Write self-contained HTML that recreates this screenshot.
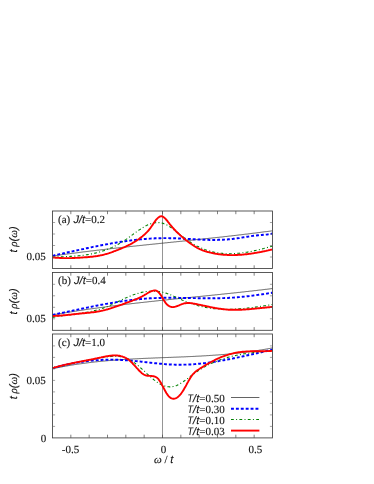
<!DOCTYPE html>
<html><head><meta charset="utf-8"><style>
html,body{margin:0;padding:0;background:#fff;}
svg{display:block;filter:blur(0.35px);}
.s{text-rendering:geometricPrecision;font-family:"Liberation Serif",serif;font-size:11px;fill:#111;stroke:#111;stroke-width:0.12px;}
.h{font-family:"Liberation Sans",sans-serif;font-style:italic;}
.si{font-family:"Liberation Serif",serif;font-style:italic;}
</style></head><body>
<svg width="374" height="484" viewBox="0 0 374 484">
<rect width="374" height="484" fill="#fff"/>
<clipPath id="cpa"><rect x="52.5" y="211.0" width="220.0" height="57.5"/></clipPath>
<line x1="162.5" y1="211.0" x2="162.5" y2="268.5" stroke="#7a7a7a" stroke-width="0.8"/>
<g clip-path="url(#cpa)">
<path d="M52.5,256.1 L53.2,256.0 L54.0,255.9 L54.7,255.8 L55.4,255.7 L56.2,255.5 L56.9,255.4 L57.7,255.3 L58.4,255.2 L59.1,255.1 L59.9,255.0 L60.6,254.9 L61.3,254.8 L62.1,254.7 L62.8,254.6 L63.5,254.5 L64.3,254.4 L65.0,254.3 L65.7,254.2 L66.5,254.1 L67.2,254.0 L68.0,253.9 L68.7,253.8 L69.4,253.7 L70.2,253.6 L70.9,253.5 L71.6,253.4 L72.4,253.3 L73.1,253.3 L73.8,253.2 L74.6,253.1 L75.3,253.0 L76.0,252.9 L76.8,252.8 L77.5,252.7 L78.3,252.6 L79.0,252.5 L79.7,252.4 L80.5,252.3 L81.2,252.2 L81.9,252.1 L82.7,252.0 L83.4,251.9 L84.1,251.8 L84.9,251.8 L85.6,251.7 L86.3,251.6 L87.1,251.5 L87.8,251.4 L88.6,251.3 L89.3,251.2 L90.0,251.1 L90.8,251.0 L91.5,250.9 L92.2,250.9 L93.0,250.8 L93.7,250.7 L94.4,250.6 L95.2,250.5 L95.9,250.4 L96.6,250.3 L97.4,250.2 L98.1,250.2 L98.9,250.1 L99.6,250.0 L100.3,249.9 L101.1,249.8 L101.8,249.7 L102.5,249.6 L103.3,249.6 L104.0,249.5 L104.7,249.4 L105.5,249.3 L106.2,249.2 L106.9,249.1 L107.7,249.0 L108.4,249.0 L109.2,248.9 L109.9,248.8 L110.6,248.7 L111.4,248.6 L112.1,248.5 L112.8,248.5 L113.6,248.4 L114.3,248.3 L115.0,248.2 L115.8,248.1 L116.5,248.0 L117.2,248.0 L118.0,247.9 L118.7,247.8 L119.5,247.7 L120.2,247.6 L120.9,247.6 L121.7,247.5 L122.4,247.4 L123.1,247.3 L123.9,247.2 L124.6,247.2 L125.3,247.1 L126.1,247.0 L126.8,246.9 L127.6,246.8 L128.3,246.8 L129.0,246.7 L129.8,246.6 L130.5,246.5 L131.2,246.4 L132.0,246.4 L132.7,246.3 L133.4,246.2 L134.2,246.1 L134.9,246.1 L135.6,246.0 L136.4,245.9 L137.1,245.8 L137.9,245.7 L138.6,245.7 L139.3,245.6 L140.1,245.5 L140.8,245.4 L141.5,245.4 L142.3,245.3 L143.0,245.2 L143.7,245.1 L144.5,245.0 L145.2,245.0 L145.9,244.9 L146.7,244.8 L147.4,244.7 L148.2,244.7 L148.9,244.6 L149.6,244.5 L150.4,244.4 L151.1,244.4 L151.8,244.3 L152.6,244.2 L153.3,244.1 L154.0,244.1 L154.8,244.0 L155.5,243.9 L156.2,243.8 L157.0,243.8 L157.7,243.7 L158.5,243.6 L159.2,243.5 L159.9,243.4 L160.7,243.4 L161.4,243.3 L162.1,243.2 L162.9,243.1 L163.6,243.1 L164.3,243.0 L165.1,242.9 L165.8,242.8 L166.5,242.8 L167.3,242.7 L168.0,242.6 L168.8,242.5 L169.5,242.5 L170.2,242.4 L171.0,242.3 L171.7,242.2 L172.4,242.2 L173.2,242.1 L173.9,242.0 L174.6,241.9 L175.4,241.9 L176.1,241.8 L176.8,241.7 L177.6,241.6 L178.3,241.6 L179.1,241.5 L179.8,241.4 L180.5,241.3 L181.3,241.3 L182.0,241.2 L182.7,241.1 L183.5,241.0 L184.2,241.0 L184.9,240.9 L185.7,240.8 L186.4,240.7 L187.1,240.6 L187.9,240.6 L188.6,240.5 L189.4,240.4 L190.1,240.3 L190.8,240.3 L191.6,240.2 L192.3,240.1 L193.0,240.0 L193.8,240.0 L194.5,239.9 L195.2,239.8 L196.0,239.7 L196.7,239.6 L197.4,239.6 L198.2,239.5 L198.9,239.4 L199.7,239.3 L200.4,239.3 L201.1,239.2 L201.9,239.1 L202.6,239.0 L203.3,238.9 L204.1,238.9 L204.8,238.8 L205.5,238.7 L206.3,238.6 L207.0,238.6 L207.8,238.5 L208.5,238.4 L209.2,238.3 L210.0,238.2 L210.7,238.2 L211.4,238.1 L212.2,238.0 L212.9,237.9 L213.6,237.8 L214.4,237.8 L215.1,237.7 L215.8,237.6 L216.6,237.5 L217.3,237.4 L218.1,237.4 L218.8,237.3 L219.5,237.2 L220.3,237.1 L221.0,237.0 L221.7,237.0 L222.5,236.9 L223.2,236.8 L223.9,236.7 L224.7,236.6 L225.4,236.5 L226.1,236.5 L226.9,236.4 L227.6,236.3 L228.4,236.2 L229.1,236.1 L229.8,236.0 L230.6,236.0 L231.3,235.9 L232.0,235.8 L232.8,235.7 L233.5,235.6 L234.2,235.5 L235.0,235.5 L235.7,235.4 L236.4,235.3 L237.2,235.2 L237.9,235.1 L238.7,235.0 L239.4,234.9 L240.1,234.9 L240.9,234.8 L241.6,234.7 L242.3,234.6 L243.1,234.5 L243.8,234.4 L244.5,234.3 L245.3,234.2 L246.0,234.1 L246.7,234.1 L247.5,234.0 L248.2,233.9 L249.0,233.8 L249.7,233.7 L250.4,233.6 L251.2,233.5 L251.9,233.4 L252.6,233.3 L253.4,233.2 L254.1,233.2 L254.8,233.1 L255.6,233.0 L256.3,232.9 L257.0,232.8 L257.8,232.7 L258.5,232.6 L259.3,232.5 L260.0,232.4 L260.7,232.3 L261.5,232.2 L262.2,232.1 L262.9,232.0 L263.7,231.9 L264.4,231.8 L265.1,231.7 L265.9,231.7 L266.6,231.6 L267.3,231.5 L268.1,231.4 L268.8,231.3 L269.6,231.2 L270.3,231.1 L271.0,231.0 L271.8,230.9 L272.5,230.8" stroke="#262626" stroke-width="0.72" fill="none"/>
<path d="M52.5,255.7 L53.2,255.6 L54.0,255.4 L54.7,255.2 L55.4,255.1 L56.2,254.9 L56.9,254.8 L57.7,254.6 L58.4,254.4 L59.1,254.3 L59.9,254.1 L60.6,254.0 L61.3,253.8 L62.1,253.6 L62.8,253.5 L63.5,253.3 L64.3,253.2 L65.0,253.0 L65.7,252.8 L66.5,252.7 L67.2,252.5 L68.0,252.3 L68.7,252.2 L69.4,252.0 L70.2,251.9 L70.9,251.7 L71.6,251.5 L72.4,251.4 L73.1,251.2 L73.8,251.0 L74.6,250.9 L75.3,250.7 L76.0,250.6 L76.8,250.4 L77.5,250.2 L78.3,250.1 L79.0,249.9 L79.7,249.8 L80.5,249.6 L81.2,249.4 L81.9,249.3 L82.7,249.1 L83.4,249.0 L84.1,248.8 L84.9,248.6 L85.6,248.5 L86.3,248.3 L87.1,248.2 L87.8,248.0 L88.6,247.9 L89.3,247.7 L90.0,247.6 L90.8,247.4 L91.5,247.3 L92.2,247.1 L93.0,246.9 L93.7,246.8 L94.4,246.6 L95.2,246.5 L95.9,246.4 L96.6,246.2 L97.4,246.1 L98.1,245.9 L98.9,245.8 L99.6,245.6 L100.3,245.5 L101.1,245.3 L101.8,245.2 L102.5,245.0 L103.3,244.9 L104.0,244.8 L104.7,244.6 L105.5,244.5 L106.2,244.4 L106.9,244.2 L107.7,244.1 L108.4,243.9 L109.2,243.8 L109.9,243.7 L110.6,243.6 L111.4,243.4 L112.1,243.3 L112.8,243.2 L113.6,243.0 L114.3,242.9 L115.0,242.8 L115.8,242.7 L116.5,242.5 L117.2,242.4 L118.0,242.3 L118.7,242.2 L119.5,242.1 L120.2,242.0 L120.9,241.8 L121.7,241.7 L122.4,241.6 L123.1,241.5 L123.9,241.4 L124.6,241.3 L125.3,241.2 L126.1,241.1 L126.8,241.0 L127.6,240.9 L128.3,240.8 L129.0,240.7 L129.8,240.6 L130.5,240.5 L131.2,240.4 L132.0,240.3 L132.7,240.2 L133.4,240.1 L134.2,240.0 L134.9,240.0 L135.6,239.9 L136.4,239.8 L137.1,239.7 L137.9,239.6 L138.6,239.6 L139.3,239.5 L140.1,239.4 L140.8,239.3 L141.5,239.3 L142.3,239.2 L143.0,239.1 L143.7,239.1 L144.5,239.0 L145.2,238.9 L145.9,238.9 L146.7,238.8 L147.4,238.8 L148.2,238.7 L148.9,238.7 L149.6,238.6 L150.4,238.6 L151.1,238.5 L151.8,238.5 L152.6,238.5 L153.3,238.4 L154.0,238.4 L154.8,238.3 L155.5,238.3 L156.2,238.3 L157.0,238.3 L157.7,238.2 L158.5,238.2 L159.2,238.2 L159.9,238.2 L160.7,238.2 L161.4,238.1 L162.1,238.1 L162.9,238.1 L163.6,238.1 L164.3,238.1 L165.1,238.1 L165.8,238.1 L166.5,238.1 L167.3,238.1 L168.0,238.1 L168.8,238.1 L169.5,238.2 L170.2,238.2 L171.0,238.2 L171.7,238.2 L172.4,238.2 L173.2,238.2 L173.9,238.3 L174.6,238.3 L175.4,238.3 L176.1,238.4 L176.8,238.4 L177.6,238.4 L178.3,238.4 L179.1,238.5 L179.8,238.5 L180.5,238.5 L181.3,238.6 L182.0,238.6 L182.7,238.7 L183.5,238.7 L184.2,238.7 L184.9,238.8 L185.7,238.8 L186.4,238.8 L187.1,238.9 L187.9,238.9 L188.6,239.0 L189.4,239.0 L190.1,239.0 L190.8,239.1 L191.6,239.1 L192.3,239.2 L193.0,239.2 L193.8,239.2 L194.5,239.3 L195.2,239.3 L196.0,239.4 L196.7,239.4 L197.4,239.4 L198.2,239.5 L198.9,239.5 L199.7,239.5 L200.4,239.6 L201.1,239.6 L201.9,239.6 L202.6,239.7 L203.3,239.7 L204.1,239.7 L204.8,239.7 L205.5,239.8 L206.3,239.8 L207.0,239.8 L207.8,239.8 L208.5,239.8 L209.2,239.9 L210.0,239.9 L210.7,239.9 L211.4,239.9 L212.2,239.9 L212.9,239.9 L213.6,239.9 L214.4,239.9 L215.1,239.9 L215.8,239.9 L216.6,239.9 L217.3,239.9 L218.1,239.8 L218.8,239.8 L219.5,239.8 L220.3,239.8 L221.0,239.8 L221.7,239.7 L222.5,239.7 L223.2,239.7 L223.9,239.6 L224.7,239.6 L225.4,239.5 L226.1,239.5 L226.9,239.4 L227.6,239.4 L228.4,239.3 L229.1,239.2 L229.8,239.2 L230.6,239.1 L231.3,239.0 L232.0,238.9 L232.8,238.9 L233.5,238.8 L234.2,238.7 L235.0,238.6 L235.7,238.5 L236.4,238.4 L237.2,238.3 L237.9,238.2 L238.7,238.1 L239.4,238.0 L240.1,237.8 L240.9,237.7 L241.6,237.6 L242.3,237.5 L243.1,237.4 L243.8,237.3 L244.5,237.2 L245.3,237.0 L246.0,236.9 L246.7,236.8 L247.5,236.7 L248.2,236.6 L249.0,236.5 L249.7,236.4 L250.4,236.2 L251.2,236.1 L251.9,236.0 L252.6,235.9 L253.4,235.8 L254.1,235.7 L254.8,235.6 L255.6,235.5 L256.3,235.4 L257.0,235.4 L257.8,235.3 L258.5,235.2 L259.3,235.1 L260.0,235.0 L260.7,235.0 L261.5,234.9 L262.2,234.9 L262.9,234.8 L263.7,234.8 L264.4,234.7 L265.1,234.7 L265.9,234.6 L266.6,234.6 L267.3,234.5 L268.1,234.4 L268.8,234.3 L269.6,234.2 L270.3,234.0 L271.0,233.9 L271.8,233.6 L272.5,233.4" stroke="#0000ff" stroke-width="1.95" stroke-dasharray="2.9,2.0" fill="none"/>
<path d="M52.5,257.0 L53.2,257.0 L54.0,257.0 L54.7,257.0 L55.4,256.9 L56.2,256.9 L56.9,256.9 L57.7,256.9 L58.4,256.9 L59.1,256.8 L59.9,256.8 L60.6,256.8 L61.3,256.8 L62.1,256.8 L62.8,256.7 L63.5,256.7 L64.3,256.7 L65.0,256.7 L65.7,256.6 L66.5,256.6 L67.2,256.6 L68.0,256.5 L68.7,256.5 L69.4,256.5 L70.2,256.4 L70.9,256.4 L71.6,256.3 L72.4,256.3 L73.1,256.2 L73.8,256.2 L74.6,256.1 L75.3,256.1 L76.0,256.0 L76.8,256.0 L77.5,255.9 L78.3,255.8 L79.0,255.8 L79.7,255.7 L80.5,255.6 L81.2,255.5 L81.9,255.4 L82.7,255.4 L83.4,255.3 L84.1,255.2 L84.9,255.1 L85.6,255.0 L86.3,254.8 L87.1,254.7 L87.8,254.6 L88.6,254.5 L89.3,254.4 L90.0,254.2 L90.8,254.1 L91.5,253.9 L92.2,253.8 L93.0,253.6 L93.7,253.5 L94.4,253.3 L95.2,253.1 L95.9,253.0 L96.6,252.8 L97.4,252.6 L98.1,252.4 L98.9,252.2 L99.6,252.0 L100.3,251.8 L101.1,251.5 L101.8,251.3 L102.5,251.1 L103.3,250.8 L104.0,250.6 L104.7,250.3 L105.5,250.1 L106.2,249.8 L106.9,249.5 L107.7,249.2 L108.4,249.0 L109.2,248.7 L109.9,248.3 L110.6,248.0 L111.4,247.7 L112.1,247.4 L112.8,247.0 L113.6,246.7 L114.3,246.3 L115.0,246.0 L115.8,245.6 L116.5,245.2 L117.2,244.8 L118.0,244.4 L118.7,244.0 L119.5,243.6 L120.2,243.2 L120.9,242.7 L121.7,242.3 L122.4,241.8 L123.1,241.3 L123.9,240.9 L124.6,240.4 L125.3,239.9 L126.1,239.4 L126.8,238.9 L127.6,238.3 L128.3,237.8 L129.0,237.3 L129.8,236.8 L130.5,236.2 L131.2,235.7 L132.0,235.1 L132.7,234.6 L133.4,234.0 L134.2,233.5 L134.9,233.0 L135.6,232.4 L136.4,231.9 L137.1,231.4 L137.9,230.9 L138.6,230.4 L139.3,229.8 L140.1,229.4 L140.8,228.9 L141.5,228.4 L142.3,227.9 L143.0,227.5 L143.7,227.0 L144.5,226.6 L145.2,226.2 L145.9,225.8 L146.7,225.5 L147.4,225.1 L148.2,224.8 L148.9,224.5 L149.6,224.2 L150.4,223.9 L151.1,223.6 L151.8,223.4 L152.6,223.2 L153.3,223.0 L154.0,222.9 L154.8,222.8 L155.5,222.7 L156.2,222.6 L157.0,222.6 L157.7,222.6 L158.5,222.6 L159.2,222.6 L159.9,222.7 L160.7,222.8 L161.4,223.0 L162.1,223.1 L162.9,223.3 L163.6,223.6 L164.3,223.9 L165.1,224.2 L165.8,224.5 L166.5,224.8 L167.3,225.2 L168.0,225.6 L168.8,226.1 L169.5,226.5 L170.2,227.0 L171.0,227.5 L171.7,228.0 L172.4,228.5 L173.2,229.1 L173.9,229.6 L174.6,230.2 L175.4,230.8 L176.1,231.4 L176.8,232.0 L177.6,232.6 L178.3,233.2 L179.1,233.8 L179.8,234.4 L180.5,235.0 L181.3,235.6 L182.0,236.2 L182.7,236.7 L183.5,237.3 L184.2,237.9 L184.9,238.4 L185.7,239.0 L186.4,239.5 L187.1,240.0 L187.9,240.6 L188.6,241.1 L189.4,241.5 L190.1,242.0 L190.8,242.5 L191.6,243.0 L192.3,243.4 L193.0,243.8 L193.8,244.3 L194.5,244.7 L195.2,245.1 L196.0,245.5 L196.7,245.9 L197.4,246.3 L198.2,246.6 L198.9,247.0 L199.7,247.3 L200.4,247.7 L201.1,248.0 L201.9,248.3 L202.6,248.6 L203.3,248.9 L204.1,249.2 L204.8,249.5 L205.5,249.7 L206.3,250.0 L207.0,250.2 L207.8,250.5 L208.5,250.7 L209.2,250.9 L210.0,251.1 L210.7,251.3 L211.4,251.5 L212.2,251.7 L212.9,251.9 L213.6,252.1 L214.4,252.2 L215.1,252.4 L215.8,252.5 L216.6,252.6 L217.3,252.8 L218.1,252.9 L218.8,253.0 L219.5,253.1 L220.3,253.2 L221.0,253.3 L221.7,253.3 L222.5,253.4 L223.2,253.5 L223.9,253.5 L224.7,253.6 L225.4,253.6 L226.1,253.7 L226.9,253.7 L227.6,253.7 L228.4,253.7 L229.1,253.7 L229.8,253.7 L230.6,253.7 L231.3,253.7 L232.0,253.7 L232.8,253.7 L233.5,253.6 L234.2,253.6 L235.0,253.6 L235.7,253.5 L236.4,253.5 L237.2,253.4 L237.9,253.3 L238.7,253.3 L239.4,253.2 L240.1,253.1 L240.9,253.0 L241.6,252.9 L242.3,252.8 L243.1,252.7 L243.8,252.6 L244.5,252.5 L245.3,252.4 L246.0,252.3 L246.7,252.2 L247.5,252.1 L248.2,251.9 L249.0,251.8 L249.7,251.7 L250.4,251.5 L251.2,251.4 L251.9,251.2 L252.6,251.1 L253.4,250.9 L254.1,250.8 L254.8,250.6 L255.6,250.5 L256.3,250.3 L257.0,250.1 L257.8,250.0 L258.5,249.8 L259.3,249.6 L260.0,249.4 L260.7,249.2 L261.5,249.1 L262.2,248.9 L262.9,248.7 L263.7,248.5 L264.4,248.3 L265.1,248.1 L265.9,247.9 L266.6,247.7 L267.3,247.5 L268.1,247.3 L268.8,247.1 L269.6,246.9 L270.3,246.7 L271.0,246.5 L271.8,246.3 L272.5,246.1" stroke="#008000" stroke-width="1.12" stroke-dasharray="2.8,2.3,1,2.3" fill="none"/>
<path d="M52.5,257.4 L53.2,257.5 L54.0,257.5 L54.7,257.6 L55.4,257.7 L56.2,257.7 L56.9,257.8 L57.7,257.8 L58.4,257.9 L59.1,257.9 L59.9,258.0 L60.6,258.0 L61.3,258.0 L62.1,258.0 L62.8,258.1 L63.5,258.1 L64.3,258.1 L65.0,258.1 L65.7,258.1 L66.5,258.1 L67.2,258.1 L68.0,258.1 L68.7,258.1 L69.4,258.1 L70.2,258.1 L70.9,258.1 L71.6,258.1 L72.4,258.0 L73.1,258.0 L73.8,258.0 L74.6,258.0 L75.3,257.9 L76.0,257.9 L76.8,257.9 L77.5,257.8 L78.3,257.8 L79.0,257.7 L79.7,257.7 L80.5,257.6 L81.2,257.6 L81.9,257.5 L82.7,257.5 L83.4,257.4 L84.1,257.4 L84.9,257.3 L85.6,257.3 L86.3,257.2 L87.1,257.2 L87.8,257.1 L88.6,257.0 L89.3,257.0 L90.0,256.9 L90.8,256.8 L91.5,256.7 L92.2,256.7 L93.0,256.6 L93.7,256.5 L94.4,256.4 L95.2,256.3 L95.9,256.2 L96.6,256.1 L97.4,256.0 L98.1,255.8 L98.9,255.7 L99.6,255.6 L100.3,255.4 L101.1,255.3 L101.8,255.1 L102.5,255.0 L103.3,254.8 L104.0,254.6 L104.7,254.4 L105.5,254.2 L106.2,254.0 L106.9,253.8 L107.7,253.6 L108.4,253.3 L109.2,253.1 L109.9,252.8 L110.6,252.6 L111.4,252.3 L112.1,252.1 L112.8,251.8 L113.6,251.5 L114.3,251.2 L115.0,251.0 L115.8,250.7 L116.5,250.4 L117.2,250.1 L118.0,249.8 L118.7,249.5 L119.5,249.2 L120.2,249.0 L120.9,248.6 L121.7,248.3 L122.4,248.0 L123.1,247.7 L123.9,247.4 L124.6,247.1 L125.3,246.7 L126.1,246.4 L126.8,246.0 L127.6,245.7 L128.3,245.3 L129.0,244.9 L129.8,244.6 L130.5,244.2 L131.2,243.8 L132.0,243.4 L132.7,242.9 L133.4,242.5 L134.2,242.1 L134.9,241.6 L135.6,241.2 L136.4,240.7 L137.1,240.2 L137.9,239.7 L138.6,239.2 L139.3,238.7 L140.1,238.1 L140.8,237.6 L141.5,237.0 L142.3,236.4 L143.0,235.8 L143.7,235.2 L144.5,234.6 L145.2,233.9 L145.9,233.2 L146.7,232.4 L147.4,231.7 L148.2,230.8 L148.9,230.0 L149.6,229.0 L150.4,228.1 L151.1,227.0 L151.8,226.0 L152.6,224.9 L153.3,223.8 L154.0,222.7 L154.8,221.6 L155.5,220.6 L156.2,219.7 L157.0,218.8 L157.7,218.1 L158.5,217.4 L159.2,216.9 L159.9,216.5 L160.7,216.3 L161.4,216.3 L162.1,216.4 L162.9,216.7 L163.6,217.1 L164.3,217.7 L165.1,218.4 L165.8,219.2 L166.5,220.0 L167.3,220.9 L168.0,221.9 L168.8,222.8 L169.5,223.8 L170.2,224.7 L171.0,225.6 L171.7,226.5 L172.4,227.3 L173.2,228.2 L173.9,229.0 L174.6,229.8 L175.4,230.5 L176.1,231.3 L176.8,232.0 L177.6,232.7 L178.3,233.5 L179.1,234.1 L179.8,234.8 L180.5,235.5 L181.3,236.1 L182.0,236.8 L182.7,237.4 L183.5,238.0 L184.2,238.6 L184.9,239.3 L185.7,239.9 L186.4,240.4 L187.1,241.0 L187.9,241.6 L188.6,242.2 L189.4,242.7 L190.1,243.3 L190.8,243.8 L191.6,244.3 L192.3,244.8 L193.0,245.3 L193.8,245.8 L194.5,246.3 L195.2,246.7 L196.0,247.1 L196.7,247.6 L197.4,248.0 L198.2,248.4 L198.9,248.7 L199.7,249.1 L200.4,249.4 L201.1,249.7 L201.9,250.0 L202.6,250.3 L203.3,250.6 L204.1,250.8 L204.8,251.1 L205.5,251.3 L206.3,251.5 L207.0,251.8 L207.8,252.0 L208.5,252.2 L209.2,252.4 L210.0,252.5 L210.7,252.7 L211.4,252.9 L212.2,253.0 L212.9,253.2 L213.6,253.3 L214.4,253.5 L215.1,253.6 L215.8,253.7 L216.6,253.9 L217.3,254.0 L218.1,254.1 L218.8,254.2 L219.5,254.3 L220.3,254.4 L221.0,254.5 L221.7,254.6 L222.5,254.6 L223.2,254.7 L223.9,254.8 L224.7,254.8 L225.4,254.9 L226.1,254.9 L226.9,254.9 L227.6,255.0 L228.4,255.0 L229.1,255.0 L229.8,255.1 L230.6,255.1 L231.3,255.1 L232.0,255.1 L232.8,255.1 L233.5,255.1 L234.2,255.1 L235.0,255.0 L235.7,255.0 L236.4,255.0 L237.2,255.0 L237.9,254.9 L238.7,254.9 L239.4,254.8 L240.1,254.8 L240.9,254.7 L241.6,254.7 L242.3,254.6 L243.1,254.6 L243.8,254.5 L244.5,254.4 L245.3,254.3 L246.0,254.3 L246.7,254.2 L247.5,254.1 L248.2,254.0 L249.0,253.9 L249.7,253.8 L250.4,253.7 L251.2,253.6 L251.9,253.5 L252.6,253.4 L253.4,253.3 L254.1,253.1 L254.8,253.0 L255.6,252.9 L256.3,252.8 L257.0,252.6 L257.8,252.5 L258.5,252.4 L259.3,252.2 L260.0,252.1 L260.7,252.0 L261.5,251.8 L262.2,251.7 L262.9,251.5 L263.7,251.4 L264.4,251.2 L265.1,251.1 L265.9,250.9 L266.6,250.7 L267.3,250.6 L268.1,250.4 L268.8,250.2 L269.6,250.1 L270.3,249.9 L271.0,249.7 L271.8,249.6 L272.5,249.4" stroke="#ff0000" stroke-width="1.9" fill="none" stroke-linejoin="round"/>
</g>
<rect x="52.5" y="211.0" width="220.0" height="57.5" fill="none" stroke="#3c3c3c" stroke-width="0.85"/>
<path d="M70.84,268.5 v-3.2 M70.84,211.0 v3.2 M89.17,268.5 v-3.2 M89.17,211.0 v3.2 M107.50,268.5 v-3.2 M107.50,211.0 v3.2 M125.83,268.5 v-3.2 M125.83,211.0 v3.2 M144.17,268.5 v-3.2 M144.17,211.0 v3.2 M162.50,268.5 v-3.2 M162.50,211.0 v3.2 M180.83,268.5 v-3.2 M180.83,211.0 v3.2 M199.17,268.5 v-3.2 M199.17,211.0 v3.2 M217.50,268.5 v-3.2 M217.50,211.0 v3.2 M235.83,268.5 v-3.2 M235.83,211.0 v3.2 M254.16,268.5 v-3.2 M254.16,211.0 v3.2" stroke="#4a4a4a" stroke-width="0.7" fill="none"/>
<path d="M52.5,257.00 h2.6 M272.5,257.00 h-2.6 M52.5,245.50 h2.6 M272.5,245.50 h-2.6 M52.5,234.00 h2.6 M272.5,234.00 h-2.6 M52.5,222.50 h2.6 M272.5,222.50 h-2.6" stroke="#666" stroke-width="0.6" fill="none"/>
<clipPath id="cpb"><rect x="52.5" y="272.5" width="220.0" height="57.80000000000001"/></clipPath>
<line x1="162.5" y1="272.5" x2="162.5" y2="330.3" stroke="#7a7a7a" stroke-width="0.8"/>
<g clip-path="url(#cpb)">
<path d="M52.5,315.0 L53.2,314.8 L54.0,314.7 L54.7,314.6 L55.4,314.4 L56.2,314.3 L56.9,314.2 L57.7,314.1 L58.4,313.9 L59.1,313.8 L59.9,313.7 L60.6,313.6 L61.3,313.4 L62.1,313.3 L62.8,313.2 L63.5,313.1 L64.3,312.9 L65.0,312.8 L65.7,312.7 L66.5,312.6 L67.2,312.5 L68.0,312.3 L68.7,312.2 L69.4,312.1 L70.2,312.0 L70.9,311.9 L71.6,311.8 L72.4,311.6 L73.1,311.5 L73.8,311.4 L74.6,311.3 L75.3,311.2 L76.0,311.1 L76.8,311.0 L77.5,310.8 L78.3,310.7 L79.0,310.6 L79.7,310.5 L80.5,310.4 L81.2,310.3 L81.9,310.2 L82.7,310.1 L83.4,310.0 L84.1,309.9 L84.9,309.7 L85.6,309.6 L86.3,309.5 L87.1,309.4 L87.8,309.3 L88.6,309.2 L89.3,309.1 L90.0,309.0 L90.8,308.9 L91.5,308.8 L92.2,308.7 L93.0,308.6 L93.7,308.5 L94.4,308.4 L95.2,308.3 L95.9,308.2 L96.6,308.1 L97.4,308.0 L98.1,307.9 L98.9,307.8 L99.6,307.7 L100.3,307.6 L101.1,307.5 L101.8,307.4 L102.5,307.3 L103.3,307.2 L104.0,307.1 L104.7,307.0 L105.5,306.9 L106.2,306.8 L106.9,306.7 L107.7,306.6 L108.4,306.5 L109.2,306.4 L109.9,306.3 L110.6,306.2 L111.4,306.1 L112.1,306.0 L112.8,305.9 L113.6,305.9 L114.3,305.8 L115.0,305.7 L115.8,305.6 L116.5,305.5 L117.2,305.4 L118.0,305.3 L118.7,305.2 L119.5,305.1 L120.2,305.0 L120.9,304.9 L121.7,304.9 L122.4,304.8 L123.1,304.7 L123.9,304.6 L124.6,304.5 L125.3,304.4 L126.1,304.3 L126.8,304.2 L127.6,304.1 L128.3,304.1 L129.0,304.0 L129.8,303.9 L130.5,303.8 L131.2,303.7 L132.0,303.6 L132.7,303.5 L133.4,303.5 L134.2,303.4 L134.9,303.3 L135.6,303.2 L136.4,303.1 L137.1,303.0 L137.9,303.0 L138.6,302.9 L139.3,302.8 L140.1,302.7 L140.8,302.6 L141.5,302.5 L142.3,302.5 L143.0,302.4 L143.7,302.3 L144.5,302.2 L145.2,302.1 L145.9,302.1 L146.7,302.0 L147.4,301.9 L148.2,301.8 L148.9,301.7 L149.6,301.6 L150.4,301.6 L151.1,301.5 L151.8,301.4 L152.6,301.3 L153.3,301.3 L154.0,301.2 L154.8,301.1 L155.5,301.0 L156.2,300.9 L157.0,300.9 L157.7,300.8 L158.5,300.7 L159.2,300.6 L159.9,300.5 L160.7,300.5 L161.4,300.4 L162.1,300.3 L162.9,300.2 L163.6,300.2 L164.3,300.1 L165.1,300.0 L165.8,299.9 L166.5,299.9 L167.3,299.8 L168.0,299.7 L168.8,299.6 L169.5,299.5 L170.2,299.5 L171.0,299.4 L171.7,299.3 L172.4,299.2 L173.2,299.2 L173.9,299.1 L174.6,299.0 L175.4,298.9 L176.1,298.9 L176.8,298.8 L177.6,298.7 L178.3,298.6 L179.1,298.6 L179.8,298.5 L180.5,298.4 L181.3,298.3 L182.0,298.3 L182.7,298.2 L183.5,298.1 L184.2,298.0 L184.9,298.0 L185.7,297.9 L186.4,297.8 L187.1,297.7 L187.9,297.7 L188.6,297.6 L189.4,297.5 L190.1,297.4 L190.8,297.4 L191.6,297.3 L192.3,297.2 L193.0,297.1 L193.8,297.1 L194.5,297.0 L195.2,296.9 L196.0,296.8 L196.7,296.8 L197.4,296.7 L198.2,296.6 L198.9,296.6 L199.7,296.5 L200.4,296.4 L201.1,296.3 L201.9,296.3 L202.6,296.2 L203.3,296.1 L204.1,296.0 L204.8,296.0 L205.5,295.9 L206.3,295.8 L207.0,295.7 L207.8,295.7 L208.5,295.6 L209.2,295.5 L210.0,295.4 L210.7,295.4 L211.4,295.3 L212.2,295.2 L212.9,295.1 L213.6,295.1 L214.4,295.0 L215.1,294.9 L215.8,294.8 L216.6,294.8 L217.3,294.7 L218.1,294.6 L218.8,294.5 L219.5,294.5 L220.3,294.4 L221.0,294.3 L221.7,294.2 L222.5,294.1 L223.2,294.1 L223.9,294.0 L224.7,293.9 L225.4,293.8 L226.1,293.8 L226.9,293.7 L227.6,293.6 L228.4,293.5 L229.1,293.5 L229.8,293.4 L230.6,293.3 L231.3,293.2 L232.0,293.1 L232.8,293.1 L233.5,293.0 L234.2,292.9 L235.0,292.8 L235.7,292.8 L236.4,292.7 L237.2,292.6 L237.9,292.5 L238.7,292.4 L239.4,292.4 L240.1,292.3 L240.9,292.2 L241.6,292.1 L242.3,292.0 L243.1,292.0 L243.8,291.9 L244.5,291.8 L245.3,291.7 L246.0,291.6 L246.7,291.5 L247.5,291.5 L248.2,291.4 L249.0,291.3 L249.7,291.2 L250.4,291.1 L251.2,291.1 L251.9,291.0 L252.6,290.9 L253.4,290.8 L254.1,290.7 L254.8,290.6 L255.6,290.6 L256.3,290.5 L257.0,290.4 L257.8,290.3 L258.5,290.2 L259.3,290.1 L260.0,290.0 L260.7,290.0 L261.5,289.9 L262.2,289.8 L262.9,289.7 L263.7,289.6 L264.4,289.5 L265.1,289.4 L265.9,289.3 L266.6,289.3 L267.3,289.2 L268.1,289.1 L268.8,289.0 L269.6,288.9 L270.3,288.8 L271.0,288.7 L271.8,288.6 L272.5,288.5" stroke="#262626" stroke-width="0.72" fill="none"/>
<path d="M52.5,314.9 L53.2,314.7 L54.0,314.6 L54.7,314.4 L55.4,314.3 L56.2,314.1 L56.9,314.0 L57.7,313.8 L58.4,313.7 L59.1,313.5 L59.9,313.3 L60.6,313.2 L61.3,313.0 L62.1,312.9 L62.8,312.7 L63.5,312.6 L64.3,312.4 L65.0,312.3 L65.7,312.1 L66.5,311.9 L67.2,311.8 L68.0,311.6 L68.7,311.5 L69.4,311.3 L70.2,311.2 L70.9,311.0 L71.6,310.9 L72.4,310.7 L73.1,310.5 L73.8,310.4 L74.6,310.2 L75.3,310.1 L76.0,309.9 L76.8,309.8 L77.5,309.6 L78.3,309.4 L79.0,309.3 L79.7,309.1 L80.5,309.0 L81.2,308.8 L81.9,308.7 L82.7,308.5 L83.4,308.4 L84.1,308.2 L84.9,308.1 L85.6,307.9 L86.3,307.8 L87.1,307.6 L87.8,307.5 L88.6,307.3 L89.3,307.2 L90.0,307.0 L90.8,306.9 L91.5,306.7 L92.2,306.6 L93.0,306.4 L93.7,306.3 L94.4,306.1 L95.2,306.0 L95.9,305.8 L96.6,305.7 L97.4,305.5 L98.1,305.4 L98.9,305.3 L99.6,305.1 L100.3,305.0 L101.1,304.8 L101.8,304.7 L102.5,304.6 L103.3,304.4 L104.0,304.3 L104.7,304.2 L105.5,304.0 L106.2,303.9 L106.9,303.8 L107.7,303.6 L108.4,303.5 L109.2,303.4 L109.9,303.2 L110.6,303.1 L111.4,303.0 L112.1,302.9 L112.8,302.7 L113.6,302.6 L114.3,302.5 L115.0,302.4 L115.8,302.3 L116.5,302.1 L117.2,302.0 L118.0,301.9 L118.7,301.8 L119.5,301.7 L120.2,301.6 L120.9,301.4 L121.7,301.3 L122.4,301.2 L123.1,301.1 L123.9,301.0 L124.6,300.9 L125.3,300.8 L126.1,300.7 L126.8,300.6 L127.6,300.5 L128.3,300.4 L129.0,300.3 L129.8,300.2 L130.5,300.1 L131.2,300.0 L132.0,300.0 L132.7,299.9 L133.4,299.8 L134.2,299.7 L134.9,299.6 L135.6,299.5 L136.4,299.5 L137.1,299.4 L137.9,299.3 L138.6,299.2 L139.3,299.2 L140.1,299.1 L140.8,299.0 L141.5,299.0 L142.3,298.9 L143.0,298.8 L143.7,298.8 L144.5,298.7 L145.2,298.6 L145.9,298.6 L146.7,298.5 L147.4,298.5 L148.2,298.4 L148.9,298.4 L149.6,298.3 L150.4,298.3 L151.1,298.3 L151.8,298.2 L152.6,298.2 L153.3,298.1 L154.0,298.1 L154.8,298.1 L155.5,298.1 L156.2,298.0 L157.0,298.0 L157.7,298.0 L158.5,298.0 L159.2,297.9 L159.9,297.9 L160.7,297.9 L161.4,297.9 L162.1,297.9 L162.9,297.9 L163.6,297.8 L164.3,297.8 L165.1,297.8 L165.8,297.8 L166.5,297.8 L167.3,297.8 L168.0,297.8 L168.8,297.8 L169.5,297.8 L170.2,297.8 L171.0,297.8 L171.7,297.8 L172.4,297.8 L173.2,297.8 L173.9,297.8 L174.6,297.8 L175.4,297.8 L176.1,297.8 L176.8,297.8 L177.6,297.8 L178.3,297.8 L179.1,297.9 L179.8,297.9 L180.5,297.9 L181.3,297.9 L182.0,297.9 L182.7,297.9 L183.5,297.9 L184.2,297.9 L184.9,297.9 L185.7,298.0 L186.4,298.0 L187.1,298.0 L187.9,298.0 L188.6,298.0 L189.4,298.0 L190.1,298.0 L190.8,298.0 L191.6,298.1 L192.3,298.1 L193.0,298.1 L193.8,298.1 L194.5,298.1 L195.2,298.1 L196.0,298.1 L196.7,298.2 L197.4,298.2 L198.2,298.2 L198.9,298.2 L199.7,298.2 L200.4,298.2 L201.1,298.2 L201.9,298.2 L202.6,298.2 L203.3,298.2 L204.1,298.3 L204.8,298.3 L205.5,298.3 L206.3,298.3 L207.0,298.3 L207.8,298.3 L208.5,298.3 L209.2,298.3 L210.0,298.3 L210.7,298.3 L211.4,298.3 L212.2,298.3 L212.9,298.3 L213.6,298.3 L214.4,298.3 L215.1,298.3 L215.8,298.2 L216.6,298.2 L217.3,298.2 L218.1,298.2 L218.8,298.2 L219.5,298.2 L220.3,298.2 L221.0,298.1 L221.7,298.1 L222.5,298.1 L223.2,298.1 L223.9,298.1 L224.7,298.0 L225.4,298.0 L226.1,298.0 L226.9,297.9 L227.6,297.9 L228.4,297.9 L229.1,297.8 L229.8,297.8 L230.6,297.7 L231.3,297.7 L232.0,297.6 L232.8,297.6 L233.5,297.6 L234.2,297.5 L235.0,297.4 L235.7,297.4 L236.4,297.3 L237.2,297.3 L237.9,297.2 L238.7,297.1 L239.4,297.1 L240.1,297.0 L240.9,296.9 L241.6,296.9 L242.3,296.8 L243.1,296.7 L243.8,296.6 L244.5,296.6 L245.3,296.5 L246.0,296.4 L246.7,296.3 L247.5,296.2 L248.2,296.2 L249.0,296.1 L249.7,296.0 L250.4,295.9 L251.2,295.8 L251.9,295.7 L252.6,295.6 L253.4,295.5 L254.1,295.4 L254.8,295.3 L255.6,295.2 L256.3,295.1 L257.0,295.0 L257.8,294.9 L258.5,294.8 L259.3,294.7 L260.0,294.6 L260.7,294.5 L261.5,294.4 L262.2,294.3 L262.9,294.2 L263.7,294.1 L264.4,294.0 L265.1,293.9 L265.9,293.7 L266.6,293.6 L267.3,293.5 L268.1,293.4 L268.8,293.3 L269.6,293.2 L270.3,293.1 L271.0,293.0 L271.8,292.8 L272.5,292.7" stroke="#0000ff" stroke-width="1.95" stroke-dasharray="2.9,2.0" fill="none"/>
<path d="M52.5,317.4 L53.2,317.3 L54.0,317.1 L54.7,317.0 L55.4,316.8 L56.2,316.7 L56.9,316.6 L57.7,316.5 L58.4,316.3 L59.1,316.2 L59.9,316.1 L60.6,316.0 L61.3,315.9 L62.1,315.8 L62.8,315.6 L63.5,315.5 L64.3,315.4 L65.0,315.3 L65.7,315.2 L66.5,315.1 L67.2,315.0 L68.0,314.9 L68.7,314.8 L69.4,314.7 L70.2,314.6 L70.9,314.6 L71.6,314.5 L72.4,314.4 L73.1,314.3 L73.8,314.2 L74.6,314.1 L75.3,314.0 L76.0,313.9 L76.8,313.8 L77.5,313.7 L78.3,313.6 L79.0,313.5 L79.7,313.4 L80.5,313.3 L81.2,313.2 L81.9,313.0 L82.7,312.9 L83.4,312.8 L84.1,312.7 L84.9,312.6 L85.6,312.4 L86.3,312.3 L87.1,312.2 L87.8,312.1 L88.6,311.9 L89.3,311.8 L90.0,311.6 L90.8,311.5 L91.5,311.3 L92.2,311.2 L93.0,311.0 L93.7,310.8 L94.4,310.6 L95.2,310.5 L95.9,310.3 L96.6,310.1 L97.4,309.9 L98.1,309.7 L98.9,309.5 L99.6,309.3 L100.3,309.0 L101.1,308.8 L101.8,308.6 L102.5,308.3 L103.3,308.1 L104.0,307.8 L104.7,307.5 L105.5,307.3 L106.2,307.0 L106.9,306.7 L107.7,306.4 L108.4,306.1 L109.2,305.8 L109.9,305.5 L110.6,305.1 L111.4,304.8 L112.1,304.5 L112.8,304.1 L113.6,303.8 L114.3,303.4 L115.0,303.1 L115.8,302.7 L116.5,302.4 L117.2,302.0 L118.0,301.7 L118.7,301.3 L119.5,300.9 L120.2,300.6 L120.9,300.2 L121.7,299.9 L122.4,299.5 L123.1,299.2 L123.9,298.8 L124.6,298.5 L125.3,298.1 L126.1,297.8 L126.8,297.5 L127.6,297.1 L128.3,296.8 L129.0,296.5 L129.8,296.2 L130.5,295.9 L131.2,295.6 L132.0,295.3 L132.7,295.0 L133.4,294.8 L134.2,294.5 L134.9,294.3 L135.6,294.0 L136.4,293.8 L137.1,293.6 L137.9,293.4 L138.6,293.1 L139.3,292.9 L140.1,292.8 L140.8,292.6 L141.5,292.4 L142.3,292.2 L143.0,292.1 L143.7,292.0 L144.5,291.8 L145.2,291.7 L145.9,291.6 L146.7,291.5 L147.4,291.4 L148.2,291.3 L148.9,291.3 L149.6,291.2 L150.4,291.2 L151.1,291.1 L151.8,291.1 L152.6,291.1 L153.3,291.1 L154.0,291.1 L154.8,291.1 L155.5,291.2 L156.2,291.2 L157.0,291.3 L157.7,291.4 L158.5,291.5 L159.2,291.6 L159.9,291.7 L160.7,291.8 L161.4,291.9 L162.1,292.1 L162.9,292.3 L163.6,292.5 L164.3,292.6 L165.1,292.9 L165.8,293.1 L166.5,293.3 L167.3,293.6 L168.0,293.8 L168.8,294.1 L169.5,294.4 L170.2,294.7 L171.0,295.0 L171.7,295.3 L172.4,295.6 L173.2,295.9 L173.9,296.3 L174.6,296.6 L175.4,296.9 L176.1,297.3 L176.8,297.6 L177.6,298.0 L178.3,298.3 L179.1,298.6 L179.8,299.0 L180.5,299.3 L181.3,299.6 L182.0,300.0 L182.7,300.3 L183.5,300.6 L184.2,300.9 L184.9,301.3 L185.7,301.6 L186.4,301.9 L187.1,302.1 L187.9,302.4 L188.6,302.7 L189.4,303.0 L190.1,303.2 L190.8,303.5 L191.6,303.8 L192.3,304.0 L193.0,304.2 L193.8,304.5 L194.5,304.7 L195.2,304.9 L196.0,305.1 L196.7,305.3 L197.4,305.5 L198.2,305.7 L198.9,305.9 L199.7,306.1 L200.4,306.3 L201.1,306.5 L201.9,306.6 L202.6,306.8 L203.3,307.0 L204.1,307.1 L204.8,307.3 L205.5,307.4 L206.3,307.5 L207.0,307.7 L207.8,307.8 L208.5,307.9 L209.2,308.0 L210.0,308.1 L210.7,308.2 L211.4,308.3 L212.2,308.4 L212.9,308.5 L213.6,308.6 L214.4,308.7 L215.1,308.7 L215.8,308.8 L216.6,308.9 L217.3,308.9 L218.1,309.0 L218.8,309.0 L219.5,309.1 L220.3,309.1 L221.0,309.2 L221.7,309.2 L222.5,309.2 L223.2,309.2 L223.9,309.3 L224.7,309.3 L225.4,309.3 L226.1,309.3 L226.9,309.3 L227.6,309.3 L228.4,309.3 L229.1,309.3 L229.8,309.3 L230.6,309.3 L231.3,309.2 L232.0,309.2 L232.8,309.2 L233.5,309.2 L234.2,309.1 L235.0,309.1 L235.7,309.1 L236.4,309.0 L237.2,309.0 L237.9,308.9 L238.7,308.9 L239.4,308.8 L240.1,308.8 L240.9,308.7 L241.6,308.6 L242.3,308.6 L243.1,308.5 L243.8,308.5 L244.5,308.4 L245.3,308.3 L246.0,308.2 L246.7,308.2 L247.5,308.1 L248.2,308.0 L249.0,307.9 L249.7,307.8 L250.4,307.7 L251.2,307.6 L251.9,307.6 L252.6,307.5 L253.4,307.4 L254.1,307.3 L254.8,307.2 L255.6,307.1 L256.3,307.0 L257.0,306.9 L257.8,306.8 L258.5,306.7 L259.3,306.6 L260.0,306.5 L260.7,306.3 L261.5,306.2 L262.2,306.1 L262.9,306.0 L263.7,305.9 L264.4,305.8 L265.1,305.7 L265.9,305.6 L266.6,305.4 L267.3,305.3 L268.1,305.2 L268.8,305.1 L269.6,305.0 L270.3,304.9 L271.0,304.8 L271.8,304.6 L272.5,304.5" stroke="#008000" stroke-width="1.12" stroke-dasharray="2.8,2.3,1,2.3" fill="none"/>
<path d="M52.5,316.0 L53.2,316.0 L54.0,316.0 L54.7,315.9 L55.4,315.9 L56.2,315.9 L56.9,315.8 L57.7,315.8 L58.4,315.7 L59.1,315.7 L59.9,315.6 L60.6,315.6 L61.3,315.5 L62.1,315.5 L62.8,315.4 L63.5,315.3 L64.3,315.3 L65.0,315.2 L65.7,315.1 L66.5,315.1 L67.2,315.0 L68.0,314.9 L68.7,314.8 L69.4,314.8 L70.2,314.7 L70.9,314.6 L71.6,314.5 L72.4,314.4 L73.1,314.3 L73.8,314.3 L74.6,314.2 L75.3,314.1 L76.0,314.0 L76.8,313.9 L77.5,313.9 L78.3,313.8 L79.0,313.7 L79.7,313.6 L80.5,313.5 L81.2,313.5 L81.9,313.4 L82.7,313.3 L83.4,313.2 L84.1,313.2 L84.9,313.1 L85.6,313.0 L86.3,313.0 L87.1,312.9 L87.8,312.8 L88.6,312.7 L89.3,312.7 L90.0,312.6 L90.8,312.5 L91.5,312.4 L92.2,312.3 L93.0,312.2 L93.7,312.2 L94.4,312.1 L95.2,312.0 L95.9,311.8 L96.6,311.7 L97.4,311.6 L98.1,311.5 L98.9,311.4 L99.6,311.2 L100.3,311.1 L101.1,310.9 L101.8,310.8 L102.5,310.6 L103.3,310.4 L104.0,310.2 L104.7,310.1 L105.5,309.9 L106.2,309.7 L106.9,309.5 L107.7,309.3 L108.4,309.0 L109.2,308.8 L109.9,308.6 L110.6,308.4 L111.4,308.1 L112.1,307.9 L112.8,307.7 L113.6,307.4 L114.3,307.2 L115.0,306.9 L115.8,306.7 L116.5,306.4 L117.2,306.2 L118.0,305.9 L118.7,305.6 L119.5,305.4 L120.2,305.1 L120.9,304.8 L121.7,304.6 L122.4,304.3 L123.1,304.0 L123.9,303.8 L124.6,303.5 L125.3,303.2 L126.1,302.9 L126.8,302.7 L127.6,302.4 L128.3,302.1 L129.0,301.9 L129.8,301.6 L130.5,301.3 L131.2,301.1 L132.0,300.8 L132.7,300.5 L133.4,300.2 L134.2,300.0 L134.9,299.7 L135.6,299.4 L136.4,299.1 L137.1,298.8 L137.9,298.5 L138.6,298.1 L139.3,297.8 L140.1,297.5 L140.8,297.1 L141.5,296.7 L142.3,296.3 L143.0,295.9 L143.7,295.5 L144.5,295.1 L145.2,294.6 L145.9,294.2 L146.7,293.7 L147.4,293.3 L148.2,292.8 L148.9,292.4 L149.6,292.0 L150.4,291.7 L151.1,291.3 L151.8,291.0 L152.6,290.8 L153.3,290.6 L154.0,290.5 L154.8,290.4 L155.5,290.5 L156.2,290.7 L157.0,291.1 L157.7,291.6 L158.5,292.2 L159.2,293.0 L159.9,293.9 L160.7,294.9 L161.4,296.1 L162.1,297.3 L162.9,298.5 L163.6,299.8 L164.3,301.0 L165.1,302.1 L165.8,303.1 L166.5,304.0 L167.3,304.8 L168.0,305.4 L168.8,305.9 L169.5,306.3 L170.2,306.7 L171.0,306.9 L171.7,307.0 L172.4,307.1 L173.2,307.1 L173.9,307.0 L174.6,306.9 L175.4,306.7 L176.1,306.5 L176.8,306.2 L177.6,306.0 L178.3,305.7 L179.1,305.4 L179.8,305.0 L180.5,304.7 L181.3,304.4 L182.0,304.1 L182.7,303.9 L183.5,303.6 L184.2,303.4 L184.9,303.3 L185.7,303.2 L186.4,303.1 L187.1,303.0 L187.9,303.0 L188.6,303.0 L189.4,303.0 L190.1,303.1 L190.8,303.1 L191.6,303.2 L192.3,303.3 L193.0,303.5 L193.8,303.6 L194.5,303.7 L195.2,303.9 L196.0,304.0 L196.7,304.2 L197.4,304.3 L198.2,304.5 L198.9,304.6 L199.7,304.8 L200.4,304.9 L201.1,305.1 L201.9,305.2 L202.6,305.4 L203.3,305.6 L204.1,305.7 L204.8,305.9 L205.5,306.0 L206.3,306.2 L207.0,306.4 L207.8,306.5 L208.5,306.7 L209.2,306.8 L210.0,307.0 L210.7,307.1 L211.4,307.3 L212.2,307.4 L212.9,307.6 L213.6,307.7 L214.4,307.8 L215.1,308.0 L215.8,308.1 L216.6,308.2 L217.3,308.4 L218.1,308.5 L218.8,308.6 L219.5,308.7 L220.3,308.8 L221.0,308.9 L221.7,309.0 L222.5,309.1 L223.2,309.2 L223.9,309.3 L224.7,309.4 L225.4,309.4 L226.1,309.5 L226.9,309.6 L227.6,309.6 L228.4,309.7 L229.1,309.7 L229.8,309.7 L230.6,309.8 L231.3,309.8 L232.0,309.8 L232.8,309.8 L233.5,309.8 L234.2,309.8 L235.0,309.8 L235.7,309.8 L236.4,309.8 L237.2,309.8 L237.9,309.8 L238.7,309.8 L239.4,309.8 L240.1,309.7 L240.9,309.7 L241.6,309.7 L242.3,309.6 L243.1,309.6 L243.8,309.6 L244.5,309.5 L245.3,309.5 L246.0,309.4 L246.7,309.4 L247.5,309.3 L248.2,309.2 L249.0,309.2 L249.7,309.1 L250.4,309.1 L251.2,309.0 L251.9,308.9 L252.6,308.9 L253.4,308.8 L254.1,308.7 L254.8,308.6 L255.6,308.6 L256.3,308.5 L257.0,308.4 L257.8,308.4 L258.5,308.3 L259.3,308.2 L260.0,308.1 L260.7,308.0 L261.5,308.0 L262.2,307.9 L262.9,307.8 L263.7,307.7 L264.4,307.7 L265.1,307.6 L265.9,307.5 L266.6,307.5 L267.3,307.4 L268.1,307.3 L268.8,307.2 L269.6,307.2 L270.3,307.1 L271.0,307.0 L271.8,307.0 L272.5,306.9" stroke="#ff0000" stroke-width="1.9" fill="none" stroke-linejoin="round"/>
</g>
<rect x="52.5" y="272.5" width="220.0" height="57.80000000000001" fill="none" stroke="#3c3c3c" stroke-width="0.85"/>
<path d="M70.84,330.3 v-3.2 M70.84,272.5 v3.2 M89.17,330.3 v-3.2 M89.17,272.5 v3.2 M107.50,330.3 v-3.2 M107.50,272.5 v3.2 M125.83,330.3 v-3.2 M125.83,272.5 v3.2 M144.17,330.3 v-3.2 M144.17,272.5 v3.2 M162.50,330.3 v-3.2 M162.50,272.5 v3.2 M180.83,330.3 v-3.2 M180.83,272.5 v3.2 M199.17,330.3 v-3.2 M199.17,272.5 v3.2 M217.50,330.3 v-3.2 M217.50,272.5 v3.2 M235.83,330.3 v-3.2 M235.83,272.5 v3.2 M254.16,330.3 v-3.2 M254.16,272.5 v3.2" stroke="#4a4a4a" stroke-width="0.7" fill="none"/>
<path d="M52.5,318.80 h2.6 M272.5,318.80 h-2.6 M52.5,307.30 h2.6 M272.5,307.30 h-2.6 M52.5,295.80 h2.6 M272.5,295.80 h-2.6 M52.5,284.30 h2.6 M272.5,284.30 h-2.6" stroke="#666" stroke-width="0.6" fill="none"/>
<clipPath id="cpc"><rect x="52.5" y="334.0" width="220.0" height="103.89999999999998"/></clipPath>
<line x1="162.5" y1="334.0" x2="162.5" y2="437.9" stroke="#7a7a7a" stroke-width="0.8"/>
<g clip-path="url(#cpc)">
<path d="M52.5,368.8 L53.2,368.6 L54.0,368.5 L54.7,368.3 L55.4,368.1 L56.2,368.0 L56.9,367.8 L57.7,367.7 L58.4,367.5 L59.1,367.4 L59.9,367.2 L60.6,367.1 L61.3,367.0 L62.1,366.8 L62.8,366.7 L63.5,366.5 L64.3,366.4 L65.0,366.3 L65.7,366.1 L66.5,366.0 L67.2,365.9 L68.0,365.7 L68.7,365.6 L69.4,365.5 L70.2,365.4 L70.9,365.2 L71.6,365.1 L72.4,365.0 L73.1,364.9 L73.8,364.8 L74.6,364.6 L75.3,364.5 L76.0,364.4 L76.8,364.3 L77.5,364.2 L78.3,364.1 L79.0,364.0 L79.7,363.9 L80.5,363.8 L81.2,363.7 L81.9,363.6 L82.7,363.5 L83.4,363.4 L84.1,363.3 L84.9,363.2 L85.6,363.1 L86.3,363.0 L87.1,362.9 L87.8,362.8 L88.6,362.7 L89.3,362.6 L90.0,362.5 L90.8,362.4 L91.5,362.3 L92.2,362.2 L93.0,362.2 L93.7,362.1 L94.4,362.0 L95.2,361.9 L95.9,361.8 L96.6,361.8 L97.4,361.7 L98.1,361.6 L98.9,361.5 L99.6,361.5 L100.3,361.4 L101.1,361.3 L101.8,361.2 L102.5,361.2 L103.3,361.1 L104.0,361.0 L104.7,361.0 L105.5,360.9 L106.2,360.8 L106.9,360.8 L107.7,360.7 L108.4,360.6 L109.2,360.6 L109.9,360.5 L110.6,360.5 L111.4,360.4 L112.1,360.3 L112.8,360.3 L113.6,360.2 L114.3,360.2 L115.0,360.1 L115.8,360.1 L116.5,360.0 L117.2,359.9 L118.0,359.9 L118.7,359.8 L119.5,359.8 L120.2,359.7 L120.9,359.7 L121.7,359.6 L122.4,359.6 L123.1,359.5 L123.9,359.5 L124.6,359.4 L125.3,359.4 L126.1,359.4 L126.8,359.3 L127.6,359.3 L128.3,359.2 L129.0,359.2 L129.8,359.1 L130.5,359.1 L131.2,359.1 L132.0,359.0 L132.7,359.0 L133.4,358.9 L134.2,358.9 L134.9,358.9 L135.6,358.8 L136.4,358.8 L137.1,358.8 L137.9,358.7 L138.6,358.7 L139.3,358.6 L140.1,358.6 L140.8,358.6 L141.5,358.5 L142.3,358.5 L143.0,358.5 L143.7,358.4 L144.5,358.4 L145.2,358.4 L145.9,358.3 L146.7,358.3 L147.4,358.3 L148.2,358.2 L148.9,358.2 L149.6,358.2 L150.4,358.2 L151.1,358.1 L151.8,358.1 L152.6,358.1 L153.3,358.0 L154.0,358.0 L154.8,358.0 L155.5,357.9 L156.2,357.9 L157.0,357.9 L157.7,357.9 L158.5,357.8 L159.2,357.8 L159.9,357.8 L160.7,357.7 L161.4,357.7 L162.1,357.7 L162.9,357.7 L163.6,357.6 L164.3,357.6 L165.1,357.6 L165.8,357.5 L166.5,357.5 L167.3,357.5 L168.0,357.5 L168.8,357.4 L169.5,357.4 L170.2,357.4 L171.0,357.4 L171.7,357.3 L172.4,357.3 L173.2,357.3 L173.9,357.2 L174.6,357.2 L175.4,357.2 L176.1,357.2 L176.8,357.1 L177.6,357.1 L178.3,357.1 L179.1,357.0 L179.8,357.0 L180.5,357.0 L181.3,356.9 L182.0,356.9 L182.7,356.9 L183.5,356.9 L184.2,356.8 L184.9,356.8 L185.7,356.8 L186.4,356.7 L187.1,356.7 L187.9,356.7 L188.6,356.6 L189.4,356.6 L190.1,356.6 L190.8,356.5 L191.6,356.5 L192.3,356.5 L193.0,356.4 L193.8,356.4 L194.5,356.4 L195.2,356.3 L196.0,356.3 L196.7,356.2 L197.4,356.2 L198.2,356.2 L198.9,356.1 L199.7,356.1 L200.4,356.1 L201.1,356.0 L201.9,356.0 L202.6,355.9 L203.3,355.9 L204.1,355.8 L204.8,355.8 L205.5,355.8 L206.3,355.7 L207.0,355.7 L207.8,355.6 L208.5,355.6 L209.2,355.5 L210.0,355.5 L210.7,355.4 L211.4,355.4 L212.2,355.3 L212.9,355.3 L213.6,355.2 L214.4,355.2 L215.1,355.1 L215.8,355.1 L216.6,355.0 L217.3,355.0 L218.1,354.9 L218.8,354.9 L219.5,354.8 L220.3,354.8 L221.0,354.7 L221.7,354.6 L222.5,354.6 L223.2,354.5 L223.9,354.5 L224.7,354.4 L225.4,354.3 L226.1,354.3 L226.9,354.2 L227.6,354.1 L228.4,354.1 L229.1,354.0 L229.8,353.9 L230.6,353.9 L231.3,353.8 L232.0,353.7 L232.8,353.6 L233.5,353.6 L234.2,353.5 L235.0,353.4 L235.7,353.3 L236.4,353.3 L237.2,353.2 L237.9,353.1 L238.7,353.0 L239.4,352.9 L240.1,352.8 L240.9,352.8 L241.6,352.7 L242.3,352.6 L243.1,352.5 L243.8,352.4 L244.5,352.3 L245.3,352.2 L246.0,352.1 L246.7,352.0 L247.5,351.9 L248.2,351.9 L249.0,351.8 L249.7,351.7 L250.4,351.6 L251.2,351.5 L251.9,351.3 L252.6,351.2 L253.4,351.1 L254.1,351.0 L254.8,350.9 L255.6,350.8 L256.3,350.7 L257.0,350.6 L257.8,350.5 L258.5,350.4 L259.3,350.2 L260.0,350.1 L260.7,350.0 L261.5,349.9 L262.2,349.8 L262.9,349.6 L263.7,349.5 L264.4,349.4 L265.1,349.3 L265.9,349.1 L266.6,349.0 L267.3,348.9 L268.1,348.7 L268.8,348.6 L269.6,348.5 L270.3,348.3 L271.0,348.2 L271.8,348.0 L272.5,347.9" stroke="#262626" stroke-width="0.72" fill="none"/>
<path d="M52.5,368.3 L53.2,368.1 L54.0,367.9 L54.7,367.6 L55.4,367.4 L56.2,367.2 L56.9,367.0 L57.7,366.8 L58.4,366.6 L59.1,366.4 L59.9,366.3 L60.6,366.1 L61.3,365.9 L62.1,365.7 L62.8,365.5 L63.5,365.3 L64.3,365.2 L65.0,365.0 L65.7,364.8 L66.5,364.7 L67.2,364.5 L68.0,364.3 L68.7,364.2 L69.4,364.0 L70.2,363.9 L70.9,363.7 L71.6,363.6 L72.4,363.4 L73.1,363.3 L73.8,363.2 L74.6,363.0 L75.3,362.9 L76.0,362.8 L76.8,362.6 L77.5,362.5 L78.3,362.4 L79.0,362.3 L79.7,362.1 L80.5,362.0 L81.2,361.9 L81.9,361.8 L82.7,361.7 L83.4,361.6 L84.1,361.5 L84.9,361.4 L85.6,361.3 L86.3,361.2 L87.1,361.1 L87.8,361.0 L88.6,360.9 L89.3,360.8 L90.0,360.8 L90.8,360.7 L91.5,360.6 L92.2,360.5 L93.0,360.5 L93.7,360.4 L94.4,360.3 L95.2,360.3 L95.9,360.2 L96.6,360.2 L97.4,360.1 L98.1,360.1 L98.9,360.0 L99.6,360.0 L100.3,359.9 L101.1,359.9 L101.8,359.9 L102.5,359.8 L103.3,359.8 L104.0,359.8 L104.7,359.7 L105.5,359.7 L106.2,359.7 L106.9,359.7 L107.7,359.7 L108.4,359.7 L109.2,359.6 L109.9,359.6 L110.6,359.6 L111.4,359.6 L112.1,359.6 L112.8,359.6 L113.6,359.7 L114.3,359.7 L115.0,359.7 L115.8,359.7 L116.5,359.7 L117.2,359.7 L118.0,359.8 L118.7,359.8 L119.5,359.8 L120.2,359.8 L120.9,359.9 L121.7,359.9 L122.4,360.0 L123.1,360.0 L123.9,360.1 L124.6,360.1 L125.3,360.2 L126.1,360.2 L126.8,360.3 L127.6,360.3 L128.3,360.4 L129.0,360.4 L129.8,360.5 L130.5,360.6 L131.2,360.6 L132.0,360.7 L132.7,360.8 L133.4,360.8 L134.2,360.9 L134.9,361.0 L135.6,361.1 L136.4,361.1 L137.1,361.2 L137.9,361.3 L138.6,361.4 L139.3,361.5 L140.1,361.5 L140.8,361.6 L141.5,361.7 L142.3,361.8 L143.0,361.9 L143.7,362.0 L144.5,362.0 L145.2,362.1 L145.9,362.2 L146.7,362.3 L147.4,362.4 L148.2,362.5 L148.9,362.5 L149.6,362.6 L150.4,362.7 L151.1,362.8 L151.8,362.9 L152.6,363.0 L153.3,363.0 L154.0,363.1 L154.8,363.2 L155.5,363.3 L156.2,363.3 L157.0,363.4 L157.7,363.5 L158.5,363.6 L159.2,363.6 L159.9,363.7 L160.7,363.8 L161.4,363.8 L162.1,363.9 L162.9,364.0 L163.6,364.0 L164.3,364.1 L165.1,364.1 L165.8,364.2 L166.5,364.3 L167.3,364.3 L168.0,364.3 L168.8,364.4 L169.5,364.4 L170.2,364.5 L171.0,364.5 L171.7,364.5 L172.4,364.6 L173.2,364.6 L173.9,364.6 L174.6,364.6 L175.4,364.7 L176.1,364.7 L176.8,364.7 L177.6,364.7 L178.3,364.7 L179.1,364.7 L179.8,364.7 L180.5,364.7 L181.3,364.7 L182.0,364.7 L182.7,364.7 L183.5,364.7 L184.2,364.6 L184.9,364.6 L185.7,364.6 L186.4,364.6 L187.1,364.5 L187.9,364.5 L188.6,364.5 L189.4,364.4 L190.1,364.4 L190.8,364.4 L191.6,364.3 L192.3,364.3 L193.0,364.2 L193.8,364.2 L194.5,364.1 L195.2,364.1 L196.0,364.0 L196.7,363.9 L197.4,363.9 L198.2,363.8 L198.9,363.7 L199.7,363.7 L200.4,363.6 L201.1,363.5 L201.9,363.4 L202.6,363.3 L203.3,363.3 L204.1,363.2 L204.8,363.1 L205.5,363.0 L206.3,362.9 L207.0,362.8 L207.8,362.7 L208.5,362.6 L209.2,362.5 L210.0,362.4 L210.7,362.3 L211.4,362.2 L212.2,362.1 L212.9,362.0 L213.6,361.9 L214.4,361.8 L215.1,361.7 L215.8,361.5 L216.6,361.4 L217.3,361.3 L218.1,361.2 L218.8,361.1 L219.5,360.9 L220.3,360.8 L221.0,360.7 L221.7,360.6 L222.5,360.4 L223.2,360.3 L223.9,360.2 L224.7,360.0 L225.4,359.9 L226.1,359.8 L226.9,359.6 L227.6,359.5 L228.4,359.3 L229.1,359.2 L229.8,359.1 L230.6,358.9 L231.3,358.8 L232.0,358.6 L232.8,358.5 L233.5,358.3 L234.2,358.2 L235.0,358.0 L235.7,357.9 L236.4,357.7 L237.2,357.6 L237.9,357.4 L238.7,357.3 L239.4,357.1 L240.1,357.0 L240.9,356.8 L241.6,356.6 L242.3,356.5 L243.1,356.3 L243.8,356.2 L244.5,356.0 L245.3,355.8 L246.0,355.7 L246.7,355.5 L247.5,355.3 L248.2,355.2 L249.0,355.0 L249.7,354.9 L250.4,354.7 L251.2,354.5 L251.9,354.4 L252.6,354.2 L253.4,354.0 L254.1,353.9 L254.8,353.7 L255.6,353.5 L256.3,353.4 L257.0,353.2 L257.8,353.0 L258.5,352.8 L259.3,352.7 L260.0,352.5 L260.7,352.3 L261.5,352.2 L262.2,352.0 L262.9,351.8 L263.7,351.7 L264.4,351.5 L265.1,351.3 L265.9,351.2 L266.6,351.0 L267.3,350.8 L268.1,350.7 L268.8,350.5 L269.6,350.3 L270.3,350.2 L271.0,350.0 L271.8,349.8 L272.5,349.7" stroke="#0000ff" stroke-width="1.95" stroke-dasharray="2.9,2.0" fill="none"/>
<path d="M52.5,367.9 L53.2,367.7 L54.0,367.6 L54.7,367.4 L55.4,367.3 L56.2,367.1 L56.9,367.0 L57.7,366.8 L58.4,366.7 L59.1,366.5 L59.9,366.3 L60.6,366.2 L61.3,366.0 L62.1,365.9 L62.8,365.7 L63.5,365.6 L64.3,365.4 L65.0,365.2 L65.7,365.1 L66.5,364.9 L67.2,364.7 L68.0,364.6 L68.7,364.4 L69.4,364.3 L70.2,364.1 L70.9,363.9 L71.6,363.8 L72.4,363.6 L73.1,363.4 L73.8,363.3 L74.6,363.1 L75.3,362.9 L76.0,362.8 L76.8,362.6 L77.5,362.5 L78.3,362.3 L79.0,362.1 L79.7,362.0 L80.5,361.8 L81.2,361.7 L81.9,361.5 L82.7,361.3 L83.4,361.2 L84.1,361.0 L84.9,360.9 L85.6,360.7 L86.3,360.6 L87.1,360.4 L87.8,360.3 L88.6,360.1 L89.3,360.0 L90.0,359.8 L90.8,359.7 L91.5,359.5 L92.2,359.4 L93.0,359.2 L93.7,359.1 L94.4,359.0 L95.2,358.8 L95.9,358.7 L96.6,358.5 L97.4,358.4 L98.1,358.3 L98.9,358.2 L99.6,358.0 L100.3,357.9 L101.1,357.8 L101.8,357.7 L102.5,357.5 L103.3,357.4 L104.0,357.3 L104.7,357.2 L105.5,357.1 L106.2,357.0 L106.9,356.9 L107.7,356.8 L108.4,356.7 L109.2,356.6 L109.9,356.6 L110.6,356.5 L111.4,356.4 L112.1,356.4 L112.8,356.3 L113.6,356.3 L114.3,356.3 L115.0,356.3 L115.8,356.3 L116.5,356.3 L117.2,356.3 L118.0,356.4 L118.7,356.4 L119.5,356.5 L120.2,356.6 L120.9,356.7 L121.7,356.9 L122.4,357.0 L123.1,357.2 L123.9,357.4 L124.6,357.6 L125.3,357.9 L126.1,358.1 L126.8,358.4 L127.6,358.7 L128.3,359.1 L129.0,359.4 L129.8,359.8 L130.5,360.2 L131.2,360.7 L132.0,361.1 L132.7,361.6 L133.4,362.1 L134.2,362.6 L134.9,363.1 L135.6,363.7 L136.4,364.2 L137.1,364.8 L137.9,365.4 L138.6,366.1 L139.3,366.7 L140.1,367.3 L140.8,368.0 L141.5,368.6 L142.3,369.3 L143.0,370.0 L143.7,370.7 L144.5,371.3 L145.2,372.0 L145.9,372.7 L146.7,373.4 L147.4,374.1 L148.2,374.8 L148.9,375.4 L149.6,376.1 L150.4,376.7 L151.1,377.4 L151.8,378.0 L152.6,378.7 L153.3,379.3 L154.0,379.9 L154.8,380.4 L155.5,381.0 L156.2,381.6 L157.0,382.1 L157.7,382.6 L158.5,383.1 L159.2,383.5 L159.9,383.9 L160.7,384.3 L161.4,384.7 L162.1,385.1 L162.9,385.4 L163.6,385.7 L164.3,385.9 L165.1,386.1 L165.8,386.3 L166.5,386.5 L167.3,386.6 L168.0,386.7 L168.8,386.8 L169.5,386.9 L170.2,386.9 L171.0,386.8 L171.7,386.8 L172.4,386.7 L173.2,386.5 L173.9,386.4 L174.6,386.2 L175.4,385.9 L176.1,385.7 L176.8,385.4 L177.6,385.0 L178.3,384.7 L179.1,384.3 L179.8,383.9 L180.5,383.4 L181.3,383.0 L182.0,382.5 L182.7,382.0 L183.5,381.5 L184.2,381.0 L184.9,380.5 L185.7,379.9 L186.4,379.4 L187.1,378.8 L187.9,378.3 L188.6,377.7 L189.4,377.1 L190.1,376.6 L190.8,376.0 L191.6,375.4 L192.3,374.9 L193.0,374.3 L193.8,373.8 L194.5,373.3 L195.2,372.7 L196.0,372.2 L196.7,371.7 L197.4,371.2 L198.2,370.7 L198.9,370.3 L199.7,369.8 L200.4,369.3 L201.1,368.9 L201.9,368.4 L202.6,368.0 L203.3,367.6 L204.1,367.1 L204.8,366.7 L205.5,366.3 L206.3,365.9 L207.0,365.5 L207.8,365.2 L208.5,364.8 L209.2,364.4 L210.0,364.1 L210.7,363.7 L211.4,363.4 L212.2,363.0 L212.9,362.7 L213.6,362.4 L214.4,362.1 L215.1,361.8 L215.8,361.5 L216.6,361.2 L217.3,360.9 L218.1,360.6 L218.8,360.3 L219.5,360.0 L220.3,359.8 L221.0,359.5 L221.7,359.3 L222.5,359.0 L223.2,358.8 L223.9,358.5 L224.7,358.3 L225.4,358.1 L226.1,357.9 L226.9,357.7 L227.6,357.4 L228.4,357.2 L229.1,357.0 L229.8,356.8 L230.6,356.7 L231.3,356.5 L232.0,356.3 L232.8,356.1 L233.5,355.9 L234.2,355.8 L235.0,355.6 L235.7,355.5 L236.4,355.3 L237.2,355.2 L237.9,355.0 L238.7,354.9 L239.4,354.7 L240.1,354.6 L240.9,354.4 L241.6,354.3 L242.3,354.2 L243.1,354.1 L243.8,353.9 L244.5,353.8 L245.3,353.7 L246.0,353.6 L246.7,353.5 L247.5,353.4 L248.2,353.3 L249.0,353.2 L249.7,353.1 L250.4,353.0 L251.2,352.9 L251.9,352.8 L252.6,352.7 L253.4,352.6 L254.1,352.5 L254.8,352.4 L255.6,352.3 L256.3,352.2 L257.0,352.2 L257.8,352.1 L258.5,352.0 L259.3,351.9 L260.0,351.8 L260.7,351.8 L261.5,351.7 L262.2,351.6 L262.9,351.5 L263.7,351.4 L264.4,351.4 L265.1,351.3 L265.9,351.2 L266.6,351.1 L267.3,351.1 L268.1,351.0 L268.8,350.9 L269.6,350.8 L270.3,350.7 L271.0,350.7 L271.8,350.6 L272.5,350.5" stroke="#008000" stroke-width="1.12" stroke-dasharray="2.8,2.3,1,2.3" fill="none"/>
<path d="M52.5,368.0 L53.2,367.8 L54.0,367.6 L54.7,367.4 L55.4,367.2 L56.2,367.0 L56.9,366.8 L57.7,366.6 L58.4,366.4 L59.1,366.2 L59.9,366.0 L60.6,365.8 L61.3,365.6 L62.1,365.5 L62.8,365.3 L63.5,365.1 L64.3,364.9 L65.0,364.8 L65.7,364.6 L66.5,364.4 L67.2,364.3 L68.0,364.1 L68.7,364.0 L69.4,363.8 L70.2,363.6 L70.9,363.5 L71.6,363.3 L72.4,363.2 L73.1,363.0 L73.8,362.9 L74.6,362.7 L75.3,362.6 L76.0,362.4 L76.8,362.3 L77.5,362.1 L78.3,362.0 L79.0,361.9 L79.7,361.7 L80.5,361.6 L81.2,361.4 L81.9,361.3 L82.7,361.1 L83.4,361.0 L84.1,360.9 L84.9,360.7 L85.6,360.6 L86.3,360.4 L87.1,360.3 L87.8,360.1 L88.6,360.0 L89.3,359.9 L90.0,359.7 L90.8,359.6 L91.5,359.4 L92.2,359.3 L93.0,359.1 L93.7,359.0 L94.4,358.8 L95.2,358.7 L95.9,358.5 L96.6,358.4 L97.4,358.2 L98.1,358.0 L98.9,357.9 L99.6,357.7 L100.3,357.6 L101.1,357.4 L101.8,357.2 L102.5,357.1 L103.3,356.9 L104.0,356.8 L104.7,356.6 L105.5,356.5 L106.2,356.4 L106.9,356.2 L107.7,356.1 L108.4,356.0 L109.2,355.9 L109.9,355.8 L110.6,355.7 L111.4,355.6 L112.1,355.5 L112.8,355.5 L113.6,355.5 L114.3,355.4 L115.0,355.4 L115.8,355.4 L116.5,355.5 L117.2,355.5 L118.0,355.6 L118.7,355.7 L119.5,355.8 L120.2,355.9 L120.9,356.1 L121.7,356.3 L122.4,356.5 L123.1,356.8 L123.9,357.1 L124.6,357.4 L125.3,357.8 L126.1,358.1 L126.8,358.6 L127.6,359.0 L128.3,359.6 L129.0,360.1 L129.8,360.7 L130.5,361.3 L131.2,362.0 L132.0,362.7 L132.7,363.5 L133.4,364.3 L134.2,365.1 L134.9,365.9 L135.6,366.7 L136.4,367.6 L137.1,368.4 L137.9,369.2 L138.6,370.0 L139.3,370.8 L140.1,371.5 L140.8,372.2 L141.5,372.9 L142.3,373.5 L143.0,374.0 L143.7,374.5 L144.5,374.9 L145.2,375.2 L145.9,375.5 L146.7,375.6 L147.4,375.8 L148.2,375.8 L148.9,375.9 L149.6,375.9 L150.4,375.9 L151.1,376.0 L151.8,376.0 L152.6,376.1 L153.3,376.2 L154.0,376.3 L154.8,376.6 L155.5,376.9 L156.2,377.3 L157.0,377.8 L157.7,378.4 L158.5,379.2 L159.2,380.2 L159.9,381.3 L160.7,382.5 L161.4,383.8 L162.1,385.1 L162.9,386.5 L163.6,387.9 L164.3,389.3 L165.1,390.7 L165.8,392.0 L166.5,393.3 L167.3,394.4 L168.0,395.4 L168.8,396.3 L169.5,397.0 L170.2,397.6 L171.0,398.1 L171.7,398.4 L172.4,398.6 L173.2,398.7 L173.9,398.7 L174.6,398.6 L175.4,398.4 L176.1,398.1 L176.8,397.7 L177.6,397.2 L178.3,396.6 L179.1,395.9 L179.8,395.1 L180.5,394.3 L181.3,393.3 L182.0,392.3 L182.7,391.2 L183.5,390.1 L184.2,388.8 L184.9,387.6 L185.7,386.2 L186.4,384.9 L187.1,383.5 L187.9,382.1 L188.6,380.8 L189.4,379.5 L190.1,378.3 L190.8,377.1 L191.6,376.0 L192.3,375.0 L193.0,374.1 L193.8,373.3 L194.5,372.6 L195.2,371.9 L196.0,371.3 L196.7,370.8 L197.4,370.2 L198.2,369.7 L198.9,369.3 L199.7,368.8 L200.4,368.3 L201.1,367.8 L201.9,367.4 L202.6,366.9 L203.3,366.4 L204.1,366.0 L204.8,365.5 L205.5,365.1 L206.3,364.7 L207.0,364.2 L207.8,363.8 L208.5,363.4 L209.2,363.0 L210.0,362.6 L210.7,362.2 L211.4,361.8 L212.2,361.4 L212.9,361.0 L213.6,360.6 L214.4,360.3 L215.1,359.9 L215.8,359.5 L216.6,359.2 L217.3,358.8 L218.1,358.5 L218.8,358.2 L219.5,357.9 L220.3,357.5 L221.0,357.2 L221.7,356.9 L222.5,356.7 L223.2,356.4 L223.9,356.1 L224.7,355.8 L225.4,355.6 L226.1,355.3 L226.9,355.1 L227.6,354.8 L228.4,354.6 L229.1,354.4 L229.8,354.2 L230.6,354.0 L231.3,353.8 L232.0,353.6 L232.8,353.4 L233.5,353.2 L234.2,353.1 L235.0,352.9 L235.7,352.8 L236.4,352.6 L237.2,352.5 L237.9,352.4 L238.7,352.3 L239.4,352.2 L240.1,352.1 L240.9,352.0 L241.6,351.9 L242.3,351.8 L243.1,351.8 L243.8,351.7 L244.5,351.6 L245.3,351.6 L246.0,351.5 L246.7,351.5 L247.5,351.4 L248.2,351.4 L249.0,351.4 L249.7,351.4 L250.4,351.3 L251.2,351.3 L251.9,351.3 L252.6,351.3 L253.4,351.3 L254.1,351.2 L254.8,351.2 L255.6,351.2 L256.3,351.2 L257.0,351.2 L257.8,351.2 L258.5,351.2 L259.3,351.2 L260.0,351.2 L260.7,351.2 L261.5,351.2 L262.2,351.2 L262.9,351.2 L263.7,351.2 L264.4,351.2 L265.1,351.1 L265.9,351.1 L266.6,351.1 L267.3,351.1 L268.1,351.1 L268.8,351.1 L269.6,351.0 L270.3,351.0 L271.0,351.0 L271.8,350.9 L272.5,350.9" stroke="#ff0000" stroke-width="1.9" fill="none" stroke-linejoin="round"/>
</g>
<rect x="52.5" y="334.0" width="220.0" height="103.89999999999998" fill="none" stroke="#3c3c3c" stroke-width="0.85"/>
<path d="M70.84,437.9 v-3.2 M70.84,334.0 v3.2 M89.17,437.9 v-3.2 M89.17,334.0 v3.2 M107.50,437.9 v-3.2 M107.50,334.0 v3.2 M125.83,437.9 v-3.2 M125.83,334.0 v3.2 M144.17,437.9 v-3.2 M144.17,334.0 v3.2 M162.50,437.9 v-3.2 M162.50,334.0 v3.2 M180.83,437.9 v-3.2 M180.83,334.0 v3.2 M199.17,437.9 v-3.2 M199.17,334.0 v3.2 M217.50,437.9 v-3.2 M217.50,334.0 v3.2 M235.83,437.9 v-3.2 M235.83,334.0 v3.2 M254.16,437.9 v-3.2 M254.16,334.0 v3.2" stroke="#4a4a4a" stroke-width="0.7" fill="none"/>
<path d="M52.5,426.40 h2.6 M272.5,426.40 h-2.6 M52.5,414.90 h2.6 M272.5,414.90 h-2.6 M52.5,403.40 h2.6 M272.5,403.40 h-2.6 M52.5,391.90 h2.6 M272.5,391.90 h-2.6 M52.5,380.40 h2.6 M272.5,380.40 h-2.6 M52.5,368.90 h2.6 M272.5,368.90 h-2.6 M52.5,357.40 h2.6 M272.5,357.40 h-2.6 M52.5,345.90 h2.6 M272.5,345.90 h-2.6" stroke="#666" stroke-width="0.6" fill="none"/>
<path d="M231,397.5 L259.4,397.5" stroke="#262626" stroke-width="0.72" fill="none"/>
<text x="187.6" y="401.6" class="s"><tspan class="h" textLength="5.5" lengthAdjust="spacingAndGlyphs">T</tspan><tspan class="h">/t</tspan>=0.50</text>
<path d="M231,408.7 L259.4,408.7" stroke="#0000ff" stroke-width="1.95" stroke-dasharray="2.9,2.0" fill="none"/>
<text x="187.6" y="412.8" class="s"><tspan class="h" textLength="5.5" lengthAdjust="spacingAndGlyphs">T</tspan><tspan class="h">/t</tspan>=0.30</text>
<path d="M231,419.5 L259.4,419.5" stroke="#008000" stroke-width="1.12" stroke-dasharray="2.8,2.3,1,2.3" fill="none"/>
<text x="187.6" y="423.6" class="s"><tspan class="h" textLength="5.5" lengthAdjust="spacingAndGlyphs">T</tspan><tspan class="h">/t</tspan>=0.10</text>
<path d="M231,430.6 L259.4,430.6" stroke="#ff0000" stroke-width="1.9" fill="none" stroke-linejoin="round"/>
<text x="187.6" y="434.70000000000005" class="s"><tspan class="h" textLength="5.5" lengthAdjust="spacingAndGlyphs">T</tspan><tspan class="h">/t</tspan>=0.03</text>
<text x="58" y="223.3" class="s">(a) <tspan class="h" dx="0.5">J/t</tspan>=0.2</text>
<text x="58" y="284.4" class="s">(b) <tspan class="h" dx="0.5">J/t</tspan>=0.4</text>
<text x="58" y="346.4" class="s">(c) <tspan class="h" dx="0.5">J/t</tspan>=1.0</text>
<text x="45.8" y="260.4" text-anchor="end" class="s">0.05</text>
<text x="45.8" y="322.4" text-anchor="end" class="s">0.05</text>
<text x="45.8" y="384.0" text-anchor="end" class="s">0.05</text>
<text x="46.3" y="441.8" text-anchor="end" class="s">0</text>
<text x="70.5" y="452.8" text-anchor="middle" class="s">-0.5</text>
<text x="163.5" y="452.8" text-anchor="middle" class="s">0</text>
<text x="255.4" y="452.8" text-anchor="middle" class="s">0.5</text>
<text x="163.7" y="463.1" text-anchor="middle" class="s"><tspan class="si">ω</tspan> / <tspan class="h">t</tspan></text>
<text transform="translate(17.0,239.5) rotate(-90)" text-anchor="middle" class="s"><tspan class="h">t</tspan> <tspan class="si">ρ</tspan><tspan class="h">(</tspan><tspan class="si">ω</tspan><tspan class="h">)</tspan></text>
<text transform="translate(17.0,301.5) rotate(-90)" text-anchor="middle" class="s"><tspan class="h">t</tspan> <tspan class="si">ρ</tspan><tspan class="h">(</tspan><tspan class="si">ω</tspan><tspan class="h">)</tspan></text>
<text transform="translate(17.0,386.2) rotate(-90)" text-anchor="middle" class="s"><tspan class="h">t</tspan> <tspan class="si">ρ</tspan><tspan class="h">(</tspan><tspan class="si">ω</tspan><tspan class="h">)</tspan></text>
</svg>
</body></html>
